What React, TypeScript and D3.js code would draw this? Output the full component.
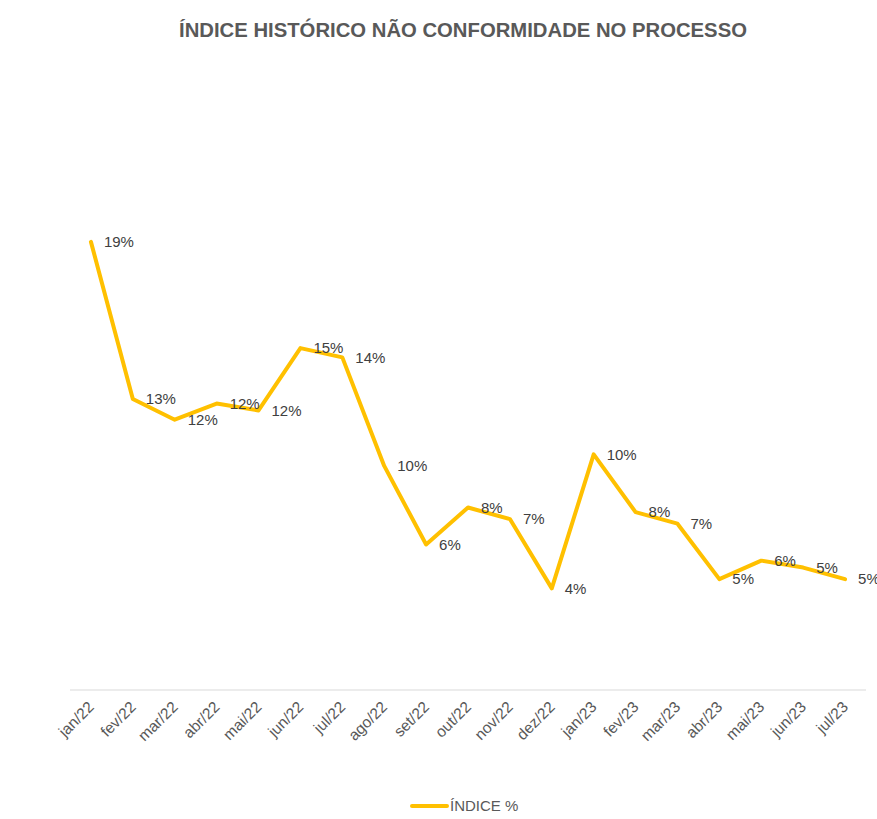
import React, { useEffect, useRef } from "react";
import * as d3 from "d3";

const months = [
  "jan/22", "fev/22", "mar/22", "abr/22", "mai/22", "jun/22", "jul/22",
  "ago/22", "set/22", "out/22", "nov/22", "dez/22", "jan/23", "fev/23",
  "mar/23", "abr/23", "mai/23", "jun/23", "jul/23",
];

const indice = [
  0.194, 0.126, 0.117, 0.124, 0.121, 0.148, 0.144, 0.097, 0.063, 0.079,
  0.074, 0.044, 0.102, 0.077, 0.072, 0.048, 0.056, 0.053, 0.048,
];

const title = "ÍNDICE HISTÓRICO NÃO CONFORMIDADE NO PROCESSO";
const seriesName = "ÍNDICE %";

const App: React.FC = () => {
  const svgRef = useRef<SVGSVGElement | null>(null);

  useEffect(() => {
    const svg = d3.select(svgRef.current);
    svg.selectAll("*").remove();

    const width = 877;
    const height = 819;
    const fontFamily = "'Liberation Sans', Arial, sans-serif";
    const lineColor = "#FFC000";

    const data = months.map((m, i) => ({ month: m, value: indice[i] }));

    const x = d3.scalePoint<string>().domain(months).range([70, 866]).padding(0.5);
    const y = d3.scaleLinear().domain([0, 0.2]).range([690, 228]);

    svg
      .append("rect")
      .attr("width", width)
      .attr("height", height)
      .attr("fill", "white");

    const chart = svg.append("g").style("font-family", fontFamily);

    // title
    chart
      .append("text")
      .attr("x", 463)
      .attr("y", 37)
      .attr("text-anchor", "middle")
      .attr("fill", "#595959")
      .style("font-size", "20.3px")
      .style("font-weight", 700)
      .text(title);

    // x axis line
    chart
      .append("line")
      .attr("x1", 70)
      .attr("x2", 866)
      .attr("y1", y(0))
      .attr("y2", y(0))
      .attr("stroke", "#d9d9d9")
      .attr("stroke-width", 1);

    // x labels rotated
    chart
      .selectAll(".x-label")
      .data(months)
      .enter()
      .append("text")
      .attr("class", "x-label")
      .attr("transform", (d) => `translate(${x(d)! + 4},${y(0) + 18}) rotate(-45)`)
      .attr("text-anchor", "end")
      .attr("fill", "#595959")
      .style("font-size", "15.5px")
      .text((d) => d);

    // line
    const line = d3
      .line<{ month: string; value: number }>()
      .x((d) => x(d.month)!)
      .y((d) => y(d.value));

    chart
      .append("path")
      .datum(data)
      .attr("d", line)
      .attr("fill", "none")
      .attr("stroke", lineColor)
      .attr("stroke-width", 4)
      .attr("stroke-linejoin", "round")
      .attr("stroke-linecap", "round");

    // data labels to the right
    const fmt = d3.format(".0%");
    chart
      .selectAll(".data-label")
      .data(data)
      .enter()
      .append("text")
      .attr("class", "data-label")
      .attr("x", (d) => x(d.month)! + 13)
      .attr("y", (d) => y(d.value))
      .attr("dy", "0.35em")
      .attr("fill", "#404040")
      .style("font-size", "15px")
      .text((d) => fmt(d.value));

    // legend
    const legend = chart.append("g").attr("transform", "translate(412,806)");
    legend
      .append("line")
      .attr("x1", 0)
      .attr("x2", 35)
      .attr("stroke", lineColor)
      .attr("stroke-width", 4)
      .attr("stroke-linecap", "round");
    legend
      .append("text")
      .attr("x", 38)
      .attr("dy", "0.35em")
      .attr("fill", "#595959")
      .style("font-size", "15px")
      .text(seriesName);
  }, []);

  return (
    <div style={{ position: "absolute", left: 0, top: 0 }}>
      <svg ref={svgRef} width={877} height={819} style={{ display: "block" }}></svg>
    </div>
  );
};

export default App;
